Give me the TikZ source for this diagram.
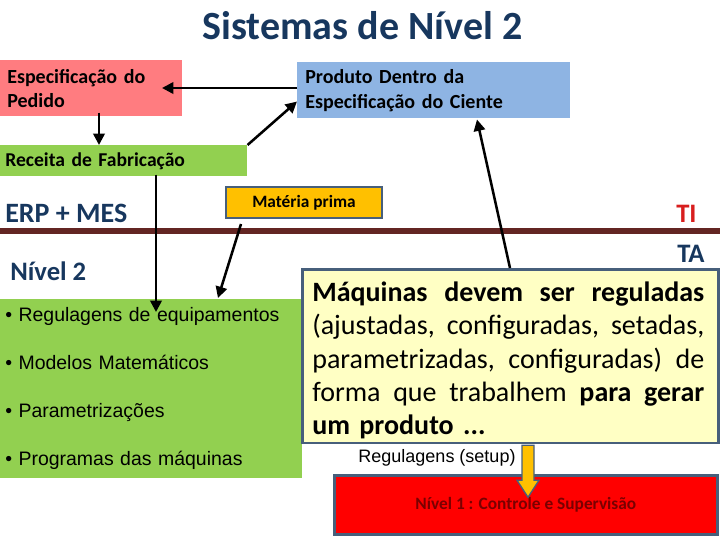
\documentclass[tikz,border=0pt]{standalone}
\usepackage{fontspec}
\setmainfont{Carlito}
\newfontfamily\arialfont{Liberation Sans}
\usetikzlibrary{arrows.meta}

\definecolor{titlenavy}{HTML}{17375E}
\definecolor{pedidored}{HTML}{FF7C80}
\definecolor{produtoblue}{HTML}{8EB4E3}
\definecolor{receitagreen}{HTML}{92D050}
\definecolor{materiaorange}{HTML}{FFC000}
\definecolor{notayellow}{HTML}{FFFFC4}
\definecolor{slateline}{HTML}{475F7B}
\definecolor{layerbrown}{HTML}{632523}
\definecolor{tired}{HTML}{D81E1E}
\definecolor{nivelred}{HTML}{FF0000}
\definecolor{nivelmaroon}{HTML}{7A0000}

\newcommand{\jline}[1]{\leavevmode\hbox to 294pt{#1}}
\newcommand{\gap}{\hspace{0pt plus 1fill}\ }

\begin{document}
\begin{tikzpicture}[x=0.75pt,y=0.75pt,yscale=-1,xscale=1,
    box/.style={rectangle, anchor=north west, inner sep=0pt, align=left},
    arr/.style={line width=1.9pt, -{Triangle[length=8.5pt,width=8.5pt]}},
    label/.style={inner sep=0pt, anchor=base west}]
\useasboundingbox (0,0) rectangle (720,540);

    % Title
    \node[inner sep=0pt, anchor=base, text=titlenavy, font=\fontsize{30}{36}\selectfont\bfseries] (title) at (362.5,39) {Sistemas de Nível 2};

    % Boxes of level 2
    \node[box, fill=pedidored, minimum width=136.5pt, minimum height=42pt, inner xsep=5.25pt, text width=126pt, font=\fontsize{15}{18}\selectfont\bfseries] (pedido) at (0,60) {Especificação do\\Pedido};
    \node[box, fill=produtoblue, minimum width=204.75pt, minimum height=42pt, inner xsep=6pt, text width=192.75pt, font=\fontsize{15}{18.75}\selectfont\bfseries] (produto) at (297,62) {Produto Dentro da\\Especificação do Ciente};
    \node[box, fill=receitagreen, minimum width=185.25pt, minimum height=23.25pt, inner xsep=3.75pt, text width=177.75pt, font=\fontsize{14.7}{18}\selectfont\bfseries] (receita) at (0,145) {Receita de Fabricação};
    \node[box, fill=materiaorange, draw=slateline, line width=1.5pt, minimum width=117pt, minimum height=23.25pt, align=center, font=\fontsize{13}{16}\selectfont\bfseries] (materia) at (225,186) {Matéria prima};

    % Side labels
    \node[label, text=titlenavy, font=\fontsize{21}{25}\selectfont\bfseries] (erp) at (5,222) {ERP + MES};
    \node[label, text=titlenavy, font=\fontsize{20}{24}\selectfont\bfseries] (nivel2) at (10,280) {Nível 2};
    \node[label, text=tired, font=\fontsize{20}{24}\selectfont\bfseries] (ti) at (676,222) {TI};
    \node[label, text=titlenavy, font=\fontsize{20}{24}\selectfont\bfseries] (ta) at (677,262) {TA};

    % TI / TA border
    \draw[layerbrown, line width=5pt] (0,231) -- (720,231);

    % Level 2 tasks
    \node[box, fill=receitagreen, minimum width=222.75pt, minimum height=134.25pt, inner xsep=3.75pt, text width=219pt, font=\arialfont\fontsize{14.6}{36}\selectfont] (tarefas) at (0,299) {• Regulagens de equipamentos\\• Modelos Matemáticos\\• Parametrizações\\• Programas das máquinas};

    % Note box
    \node[box, fill=notayellow, draw=slateline, line width=2pt, minimum width=312pt, minimum height=126.75pt, inner xsep=7.5pt, text width=297pt, font=\fontsize{21}{25}\selectfont] (nota) at (301,268)
        {\jline{\rule{0pt}{24.2pt}\bfseries Máquinas\gap devem\gap ser\gap reguladas}\\
         \jline{(ajustadas,\gap configuradas,\gap setadas,}\\
         \jline{parametrizadas,\gap configuradas)\gap de}\\
         \jline{forma\gap que\gap trabalhem\gap \textbf{para}\gap \textbf{gerar}}\\
         \textbf{um produto ...}\rule[-6pt]{0pt}{6pt}};

    % Level 1
    \node[box, fill=nivelred, draw=slateline, line width=2pt, minimum width=287.25pt, minimum height=44.25pt, align=center, text=nivelmaroon, font=\fontsize{13}{16}\selectfont\bfseries] (nivel1) at (333,474) {Nível 1 : Controle e Supervisão};
    \node[inner sep=0pt, anchor=base, font=\arialfont\fontsize{13.5}{16}\selectfont] (setup) at (437,462) {Regulagens (setup)};

    % Block arrow
    \draw[fill=materiaorange, draw=slateline, line width=1pt] ([shift={(221,1)}]nota.south west) -- ++(0,35) -- ++(-5,0) -- ++(11,17) -- ++(11,-17) -- ++(-5,0) -- ++(0,-35) -- cycle;

    % Arrows
    \draw[arr] ([shift={(0,26)}]produto.north west) -- ([shift={(162,28)}]pedido.north west);
    \draw[arr] ([shift={(99,-4)}]pedido.south west) -- ([shift={(99,0)}]receita.north west);
    \draw[arr] (receita.north east) -- ([shift={(0,-17)}]produto.south west);
    \draw[arr] ([shift={(156,-2)}]receita.south west) -- ([shift={(156,13)}]tarefas.north west);
    \draw[arr] ([shift={(16,5)}]materia.south west) -- ([shift={(218,-1)}]tarefas.north west);
    \draw[arr] ([shift={(209,0)}]nota.north west) -- ([shift={(180,1)}]produto.south west);

\end{tikzpicture}
\end{document}
